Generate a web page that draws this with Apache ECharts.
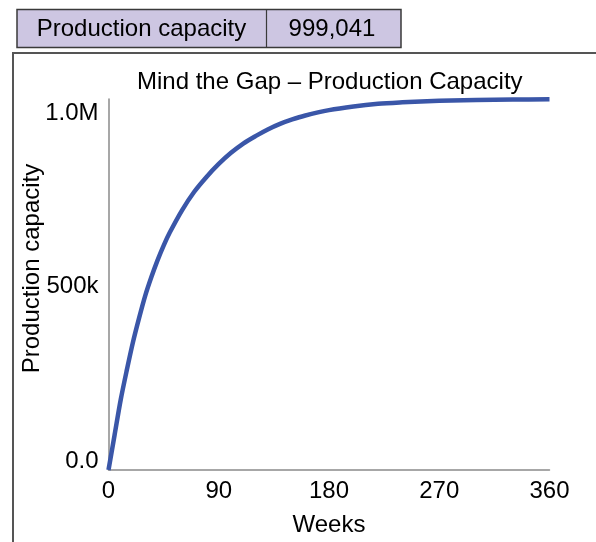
<!DOCTYPE html>
<html>
<head>
<meta charset="utf-8">
<script src="https://cdn.jsdelivr.net/npm/echarts@6/dist/echarts.min.js"></script>
<style>
html,body{margin:0;padding:0;background:#fff;}
#chart{width:596px;height:542px;}
</style>
</head>
<body>
<div id="chart"></div>
<script>
// Data
const weeks = [0, 5, 10, 15, 20, 25, 30, 35, 40, 45, 50, 60, 70, 80, 90, 100, 110, 120, 130, 140, 150, 160, 180, 200, 220, 240, 260, 280, 300, 330, 360];
const capacity = [0, 95000, 190000, 270000, 345000, 410000, 470000, 520000, 565000, 605000, 640000, 700000, 750000, 790000, 825000, 855000, 880000, 900000, 918000, 933000, 945000, 955000, 970000, 980000, 987000, 991000, 994000, 996000, 997500, 998500, 999041];
const xTicks = [0, 90, 180, 270, 360];
const yTickLabels = {0: '0.0', 500000: '500k', 1000000: '1.0M'};
const tableLabel = 'Production capacity';
const chartTitle = 'Mind the Gap \u2013 Production Capacity';
const xName = 'Weeks';
const yName = 'Production capacity';

const FONT = '"Liberation Sans", Arial, sans-serif';
const FS = 24;
const chart = echarts.init(document.getElementById('chart'), null, {renderer: 'canvas'});

const seriesData = weeks.map((w, i) => [w, capacity[i]]);
const lastValue = capacity[capacity.length - 1];

chart.setOption({
  backgroundColor: '#ffffff',
  animation: false,
  textStyle: {fontFamily: FONT},
  title: {
    text: chartTitle,
    left: 137,
    top: 70,
    padding: 0,
    textStyle: {fontSize: FS, fontWeight: 'normal', color: '#000', fontFamily: FONT}
  },
  grid: {left: 108.5, right: 46.5, top: 99, bottom: 71, containLabel: false},
  xAxis: {
    type: 'value',
    min: xTicks[0],
    max: xTicks[xTicks.length - 1],
    interval: xTicks[1] - xTicks[0],
    name: xName,
    nameLocation: 'middle',
    nameGap: 43,
    nameMoveOverlap: false,
    nameTextStyle: {fontSize: FS, color: '#000', fontFamily: FONT},
    axisLine: {show: true, lineStyle: {color: '#8a8a8a', width: 1.5}},
    axisTick: {show: false},
    splitLine: {show: false},
    axisLabel: {fontSize: FS, color: '#000', margin: 9, fontFamily: FONT}
  },
  yAxis: {
    type: 'value',
    min: 0,
    max: 1000000,
    interval: 500000,
    name: yName,
    nameLocation: 'middle',
    nameRotate: 90,
    nameGap: 64,
    nameMoveOverlap: false,
    nameTextStyle: {fontSize: FS, color: '#000', fontFamily: FONT, padding: [0, 0, 0, 32]},
    axisLine: {show: true, lineStyle: {color: '#8a8a8a', width: 1.5}},
    axisTick: {show: false},
    splitLine: {show: false},
    axisLabel: {
      fontSize: FS, color: '#000', margin: 10, fontFamily: FONT,
      formatter: function (v) {
        const t = yTickLabels[v] || '';
        if (v === 1000000) return '{t|' + t + '}';
        if (v === 0) return '{b|' + t + '}';
        return '{m|' + t + '}';
      },
      rich: {
        t: {fontSize: FS, color: '#000', fontFamily: FONT, padding: [28, 0, 0, 0]},
        b: {fontSize: FS, color: '#000', fontFamily: FONT, padding: [0, 0, 18, 0]},
        m: {fontSize: FS, color: '#000', fontFamily: FONT, padding: [4, 0, 0, 0]}
      }
    }
  },
  graphic: [
    {type: 'rect', shape: {x: 13, y: 53, width: 640, height: 560}, style: {fill: 'none', stroke: '#555555', lineWidth: 2}, z: -1},
    {type: 'rect', shape: {x: 17, y: 9.5, width: 384, height: 38}, style: {fill: '#cdc6e2', stroke: '#3a3a3a', lineWidth: 1.5}},
    {type: 'line', shape: {x1: 266.5, y1: 9.5, x2: 266.5, y2: 47.5}, style: {stroke: '#3a3a3a', lineWidth: 1.2}},
    {type: 'text', style: {text: tableLabel, x: 141.5, y: 29, textAlign: 'center', textVerticalAlign: 'middle', fontSize: FS, fill: '#000', fontFamily: FONT}},
    {type: 'text', style: {text: lastValue.toLocaleString('en-US'), x: 332, y: 29, textAlign: 'center', textVerticalAlign: 'middle', fontSize: FS, fill: '#000', fontFamily: FONT}}
  ],
  series: [{
    type: 'line',
    data: seriesData,
    smooth: 0.3,
    showSymbol: false,
    lineStyle: {color: '#3a56a8', width: 4.5},
    clip: false
  }]
});
</script>
</body>
</html>
